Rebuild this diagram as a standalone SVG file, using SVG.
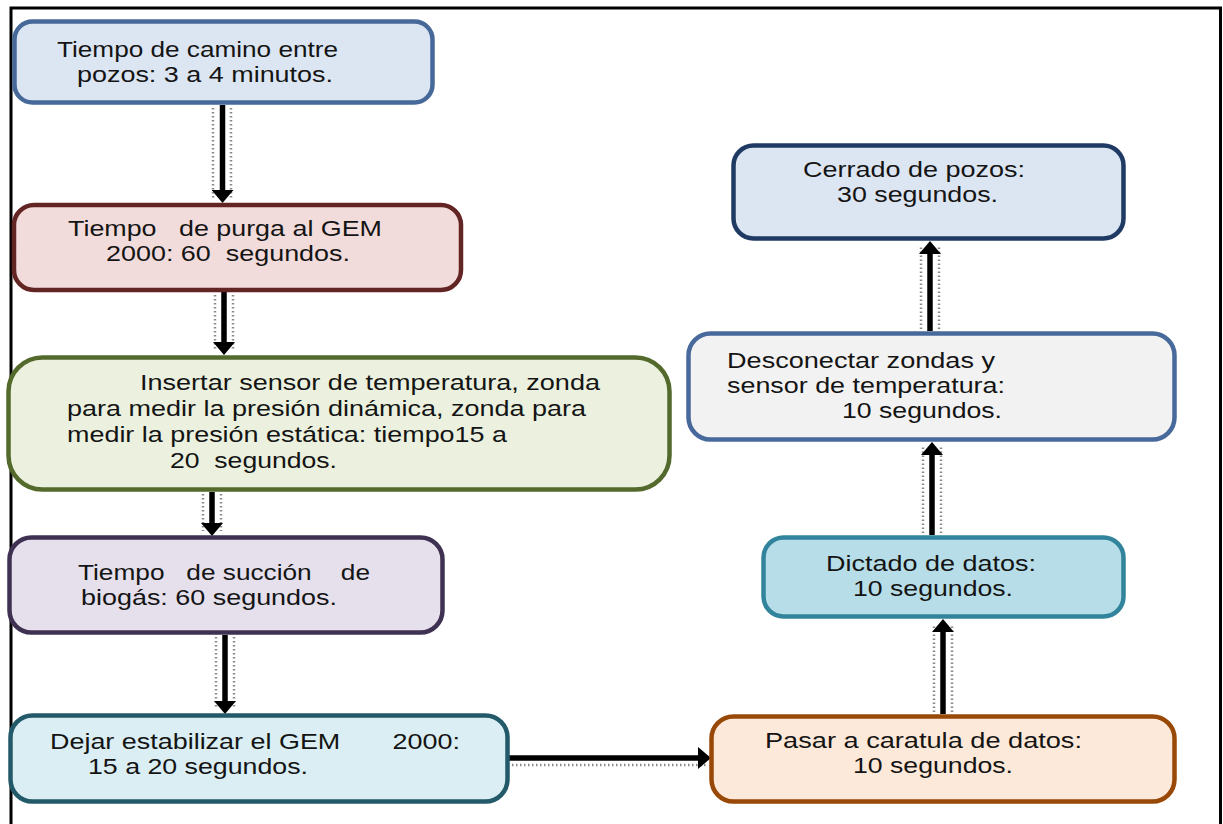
<svg xmlns="http://www.w3.org/2000/svg" width="1223" height="824" viewBox="0 0 1223 824">
<style>
.box{stroke-width:4.5}
.t{font-family:"Liberation Sans",Arial,sans-serif;font-size:22px;fill:#141414}
.shaft{stroke:#000;stroke-width:5.5;fill:none}
.dots{stroke:#8a8a8a;stroke-width:2.5;stroke-dasharray:1.5 2.5;fill:none}
</style>
<defs>
<marker id="ah" markerUnits="userSpaceOnUse" viewBox="0 0 13 22" refX="5" refY="11" markerWidth="13" markerHeight="22" orient="auto">
<path d="M0,0 L13,11 L0,22 Z" fill="#000"/>
</marker>
</defs>
<rect width="1223" height="824" fill="#fff"/>
<path d="M11,824 V8 H1220.5 V824" fill="none" stroke="#000" stroke-width="3"/>

<g id="connectors">
<path class="dots" d="M213,108 V198 M231,108 V198"/>
<path class="shaft" d="M222.5,105 V195" marker-end="url(#ah)"/>
<path class="dots" d="M215,295 V350 M233,295 V350"/>
<path class="shaft" d="M224,292 V347" marker-end="url(#ah)"/>
<path class="dots" d="M203,494 V531 M221,494 V531"/>
<path class="shaft" d="M212,492 V528" marker-end="url(#ah)"/>
<path class="dots" d="M216,637 V709 M234,637 V709"/>
<path class="shaft" d="M225,635 V706" marker-end="url(#ah)"/>
<path class="dots" d="M512,765 H706"/>
<path class="shaft" d="M509,758 H703" marker-end="url(#ah)"/>
<path class="dots" d="M934,712 V624 M952,712 V624"/>
<path class="shaft" d="M943,714 V627" marker-end="url(#ah)"/>
<path class="dots" d="M923,533 V447 M941,533 V447"/>
<path class="shaft" d="M932,535 V450" marker-end="url(#ah)"/>
<path class="dots" d="M921,329 V246 M939,329 V246"/>
<path class="shaft" d="M930,331 V249" marker-end="url(#ah)"/>
</g>

<g id="n1">
<rect class="box" x="14.5" y="21.5" width="418" height="81" rx="18" fill="#dce6f2" stroke="#46699a"/>
<text class="t" x="57" y="57" textLength="281" lengthAdjust="spacingAndGlyphs">Tiempo de camino entre</text>
<text class="t" x="77" y="82" textLength="256" lengthAdjust="spacingAndGlyphs">pozos: 3 a 4 minutos.</text>
</g>

<g id="n2">
<rect class="box" x="14" y="205" width="447" height="85" rx="20" fill="#f2dcdb" stroke="#632523"/>
<text class="t" x="68" y="236" textLength="314" lengthAdjust="spacingAndGlyphs" xml:space="preserve">Tiempo   de purga al GEM</text>
<text class="t" x="106" y="261" textLength="244" lengthAdjust="spacingAndGlyphs" xml:space="preserve">2000: 60  segundos.</text>
</g>

<g id="n3">
<rect class="box" x="8.5" y="357.5" width="661" height="132" rx="34" fill="#ebf1de" stroke="#536a2c"/>
<text class="t" x="140" y="390" textLength="460" lengthAdjust="spacingAndGlyphs">Insertar sensor de temperatura, zonda</text>
<text class="t" x="67" y="416" textLength="519" lengthAdjust="spacingAndGlyphs">para medir la presión dinámica, zonda para</text>
<text class="t" x="67" y="442" textLength="440" lengthAdjust="spacingAndGlyphs">medir la presión estática: tiempo15 a</text>
<text class="t" x="170" y="468" textLength="167" lengthAdjust="spacingAndGlyphs" xml:space="preserve">20  segundos.</text>
</g>

<g id="n4">
<rect class="box" x="9.5" y="537.5" width="433" height="95" rx="22" fill="#e5e0ec" stroke="#3f3151"/>
<text class="t" x="78" y="580" textLength="292" lengthAdjust="spacingAndGlyphs" xml:space="preserve">Tiempo   de succión    de</text>
<text class="t" x="81" y="605" textLength="256" lengthAdjust="spacingAndGlyphs">biogás: 60 segundos.</text>
</g>

<g id="n5">
<rect class="box" x="10.5" y="715.5" width="497" height="86" rx="22" fill="#daeef3" stroke="#235a69"/>
<text class="t" x="50" y="749" textLength="410" lengthAdjust="spacingAndGlyphs" xml:space="preserve">Dejar estabilizar el GEM       2000:</text>
<text class="t" x="88" y="774" textLength="220" lengthAdjust="spacingAndGlyphs">15 a 20 segundos.</text>
</g>

<g id="n6">
<rect class="box" x="711.5" y="716.5" width="463" height="85" rx="22" fill="#fde9d9" stroke="#984807"/>
<text class="t" x="765" y="748" textLength="317" lengthAdjust="spacingAndGlyphs">Pasar a caratula de datos:</text>
<text class="t" x="853" y="773" textLength="160" lengthAdjust="spacingAndGlyphs">10 segundos.</text>
</g>

<g id="n7">
<rect class="box" x="763.5" y="537.5" width="360" height="79" rx="20" fill="#b7dee8" stroke="#31849b"/>
<text class="t" x="826" y="571" textLength="210" lengthAdjust="spacingAndGlyphs">Dictado de datos:</text>
<text class="t" x="853" y="596" textLength="160" lengthAdjust="spacingAndGlyphs">10 segundos.</text>
</g>

<g id="n8">
<rect class="box" x="688.5" y="333.5" width="486" height="106" rx="22" fill="#f2f2f2" stroke="#48699b"/>
<text class="t" x="727" y="368" textLength="268" lengthAdjust="spacingAndGlyphs">Desconectar zondas y</text>
<text class="t" x="727" y="393" textLength="278" lengthAdjust="spacingAndGlyphs">sensor de temperatura:</text>
<text class="t" x="842" y="418" textLength="160" lengthAdjust="spacingAndGlyphs">10 segundos.</text>
</g>

<g id="n9">
<rect class="box" x="733.5" y="145.5" width="390" height="93" rx="20" fill="#dce6f2" stroke="#1f3b63"/>
<text class="t" x="803" y="177" textLength="222" lengthAdjust="spacingAndGlyphs">Cerrado de pozos:</text>
<text class="t" x="837" y="202" textLength="161" lengthAdjust="spacingAndGlyphs">30 segundos.</text>
</g>
</svg>
